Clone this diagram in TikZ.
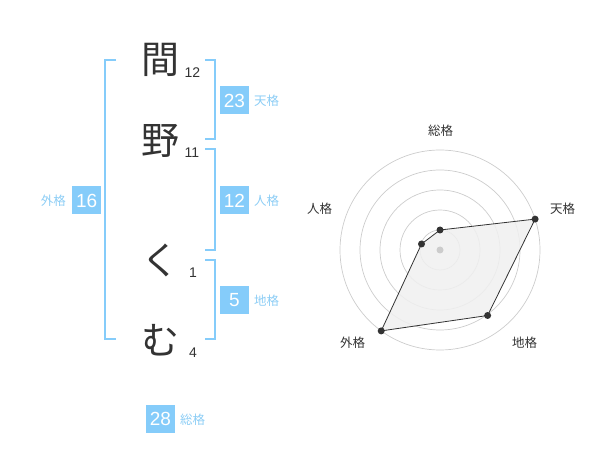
\documentclass[tikz,border=0pt]{standalone}
\usepackage{fontspec}
\setmainfont{Liberation Sans}
\newfontfamily\jp{Noto Sans CJK JP}
\definecolor{kblue}{RGB}{133,204,250}
\definecolor{klab}{RGB}{140,205,245}
\definecolor{kdark}{RGB}{51,51,51}
\definecolor{kgrid}{RGB}{204,204,204}
\definecolor{kfill}{RGB}{240,240,240}
\begin{document}
\begin{tikzpicture}[x=1pt,y=-1pt,
  kanji/.style={font=\jp\fontsize{38}{38}\selectfont,text=kdark,inner sep=0pt},
  stroke/.style={font=\fontsize{14}{14}\selectfont,text=kdark,inner sep=0pt},
  valbox/.style={fill=kblue,text=white,font=\fontsize{19}{19}\selectfont,minimum width=29pt,minimum height=28pt,inner sep=0pt},
  kaku/.style={font=\jp\fontsize{12.5}{12.5}\selectfont,text=klab,inner sep=0pt},
  brk/.style={draw=kblue,line width=2pt},
  rlab/.style={font=\jp\fontsize{12.5}{12.5}\selectfont,text=kdark,inner sep=0pt},
  ring/.style={draw=kgrid,line width=0.7pt},
  dot/.style={circle,fill=kdark,inner sep=0pt,minimum size=7pt}]
\useasboundingbox (0,0) rectangle (600,470);
% characters
\node[kanji] (c1) at (160,60) {間};
\node[kanji] (c2) at (160,140.5) {野};
\node[kanji] (c3) at (160,260) {く};
\node[kanji] (c4) at (160,340) {む};
\node[stroke] (s1) at (192.5,73) {12};
\node[stroke] (s2) at (192,153) {11};
\node[stroke] (s3) at (193,272.5) {1};
\node[stroke] (s4) at (193,352.5) {4};
% brackets
\draw[brk] (116,60) -- (105,60) -- (105,339.5) -- (116,339.5);
\draw[brk] (205,60) -- (214.5,60) -- (214.5,139.5) -- (205,139.5);
\draw[brk] (205,149.5) -- (214.5,149.5) -- (214.5,250) -- (205,250);
\draw[brk] (205,260) -- (214.5,260) -- (214.5,339.5) -- (205,339.5);
% values
\node[valbox] (ten) at (234.5,100.5) {23};
\node[kaku,anchor=west] (tenl) at (254,101) {天格};
\node[valbox] (jin) at (234.5,200.5) {12};
\node[kaku,anchor=west] (jinl) at (254,201) {人格};
\node[valbox] (chi) at (234.5,300.5) {5};
\node[kaku,anchor=west] (chil) at (254,301) {地格};
\node[valbox] (gai) at (86.7,200.5) {16};
\node[kaku,anchor=east] (gail) at (66,201) {外格};
\node[valbox] (sou) at (160.5,419) {28};
\node[kaku,anchor=west] (soul) at (180,420) {総格};
% radar
\coordinate (o) at (440,250);
\foreach \r in {20,40,60,80,100} \draw[ring] (o) circle[radius=\r];
\coordinate (pS) at (440,230);
\coordinate (pT) at (535.1,219.1);
\coordinate (pC) at (487.6,315.5);
\coordinate (pG) at (381.2,330.9);
\coordinate (pJ) at (421.5,244);
\fill[kfill,opacity=0.85] (pS) -- (pT) -- (pC) -- (pG) -- (pJ) -- cycle;
\draw[kdark,line width=0.8pt] (pS) -- (pT) -- (pC) -- (pG) -- (pJ) -- cycle;
\node[circle,fill=kgrid,inner sep=0pt,minimum size=7pt] (oc) at (o) {};
\foreach \p in {pS,pT,pC,pG,pJ} \node[dot] at (\p) {};
\node[rlab] (lS) at (440.5,131) {総格};
\node[rlab] (lT) at (562.5,209) {天格};
\node[rlab] (lJ) at (319.5,209) {人格};
\node[rlab] (lG) at (352.5,342.5) {外格};
\node[rlab] (lC) at (524.5,342.5) {地格};
\end{tikzpicture}
\end{document}
